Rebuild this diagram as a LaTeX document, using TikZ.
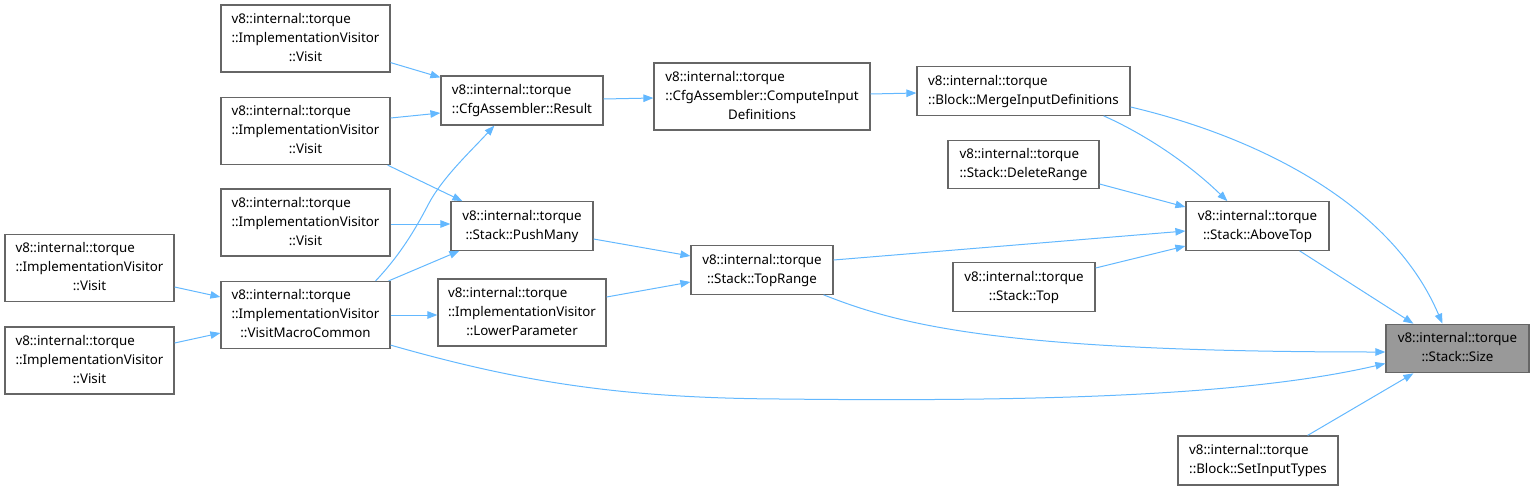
\documentclass[tikz,border=0pt]{standalone}
\usepackage{fontspec}
\setmainfont{Noto Sans}
\usetikzlibrary{arrows.meta,calc}
\definecolor{edgeblue}{HTML}{63B8FF}
\definecolor{boxgray}{HTML}{666666}
\definecolor{selfill}{HTML}{999999}
\newcommand{\lbl}[2]{\begin{tabular}{@{}l@{}}#1\\\multicolumn{1}{@{}c@{}}{#2}\end{tabular}}
\tikzset{
  box/.style={draw=boxgray, line width=1.2pt, fill=white, inner sep=0pt, rectangle,
    font=\fontsize{13.33pt}{19pt}\selectfont},
  selbox/.style={box, fill=selfill},
  link/.style={draw=edgeblue, line width=1pt, -{Triangle[length=10pt,width=7.5pt]}},
}
\begin{document}
\begin{tikzpicture}[x=1pt,y=-1pt]
\useasboundingbox (0,0) rectangle (1534,490);
% nodes
\node[box, minimum width=169pt, minimum height=67pt] (v1) at (305.5,38.5) {\lbl{v8::internal::torque\\::ImplementationVisitor}{::Visit}};
\node[box, minimum width=169pt, minimum height=67pt] (v2) at (305.5,131) {\lbl{v8::internal::torque\\::ImplementationVisitor}{::Visit}};
\node[box, minimum width=169pt, minimum height=67pt] (v3) at (305.5,222.5) {\lbl{v8::internal::torque\\::ImplementationVisitor}{::Visit}};
\node[box, minimum width=169pt, minimum height=67pt] (v4) at (89.5,268) {\lbl{v8::internal::torque\\::ImplementationVisitor}{::Visit}};
\node[box, minimum width=169pt, minimum height=67pt] (v5) at (89.5,360.5) {\lbl{v8::internal::torque\\::ImplementationVisitor}{::Visit}};
\node[box, minimum width=169pt, minimum height=67pt] (vmc) at (305.5,315) {\lbl{v8::internal::torque\\::ImplementationVisitor}{::VisitMacroCommon}};
\node[box, minimum width=162pt, minimum height=49pt] (res) at (522,100.5) {\lbl{v8::internal::torque}{::CfgAssembler::Result}};
\node[box, minimum width=142pt, minimum height=48.5pt] (push) at (522,226) {\lbl{v8::internal::torque}{::Stack::PushMany}};
\node[box, minimum width=168pt, minimum height=67pt] (lowp) at (522,312.5) {\lbl{v8::internal::torque\\::ImplementationVisitor}{::LowerParameter}};
\node[box, minimum width=216pt, minimum height=67pt] (comp) at (762,96.5) {\lbl{v8::internal::torque\\::CfgAssembler::ComputeInput}{Definitions}};
\node[box, minimum width=142pt, minimum height=48.5pt] (topr) at (762,270) {\lbl{v8::internal::torque}{::Stack::TopRange}};
\node[box, minimum width=213pt, minimum height=48.5pt] (merge) at (1023.5,91) {\lbl{v8::internal::torque}{::Block::MergeInputDefinitions}};
\node[box, minimum width=151pt, minimum height=48.5pt] (delr) at (1023.5,164.5) {\lbl{v8::internal::torque}{::Stack::DeleteRange}};
\node[box, minimum width=142pt, minimum height=48.5pt] (top) at (1024,287) {\lbl{v8::internal::torque}{::Stack::Top}};
\node[box, minimum width=143pt, minimum height=48.5pt] (above) at (1257.5,226) {\lbl{v8::internal::torque}{::Stack::AboveTop}};
\node[selbox, minimum width=143pt, minimum height=48.5pt] (size) at (1457.5,348.5) {\lbl{v8::internal::torque}{::Stack::Size}};
\node[box, minimum width=160pt, minimum height=49pt] (setin) at (1258,460.5) {\lbl{v8::internal::torque}{::Block::SetInputTypes}};
% edges
\draw[link] ($(v1.south east)+(0,-10)$) -- ($(res.north west)+(0,2)$);
\draw[link] ($(v2.east)+(0,-13)$) -- ($(res.west)+(0,12.5)$);
\draw[link] ($(v2.south east)+(-3,0)$) -- ($(push.north west)+(12,0)$);
\draw[link] ($(v3.east)+(0,1.5)$) -- ($(push.west)+(0,-2)$);
\draw[link] ($(vmc.north east)+(-2,0)$) -- ($(push.south west)+(9,0)$);
\draw[link] ($(vmc.north east)+(-15,0)$) .. controls (400,255) and (415,230) .. (428,205)
  .. controls (442,178) and (470,152) .. ($(res.south west)+(54,0)$);
\draw[link] (vmc.east) -- (vmc.east -| lowp.west);
\draw[link] ($(v4.east)+(0,19)$) -- ($(vmc.west)+(0,-18)$);
\draw[link] ($(v5.east)+(0,-17.5)$) -- ($(vmc.west)+(0,18)$);
\draw[link] ($(push.east)+(0,13)$) -- ($(topr.west)+(0,-14)$);
\draw[link] ($(lowp.east)+(0,-15.5)$) -- ($(topr.west)+(0,12)$);
\draw[link] ($(res.east)+(0,-1.5)$) -- ($(comp.west)+(0,1.5)$);
\draw[link] ($(comp.east)+(0,-2.5)$) -- ($(merge.west)+(0,2)$);
\draw[link] ($(merge.south east)+(-27,0)$) .. controls (1140,132) and (1185,160) .. ($(above.north west)+(42,0)$);
\draw[link] ($(merge.east)+(0,16)$) .. controls (1250,135) and (1390,200) .. ($(size.north west)+(57,0)$);
\draw[link] ($(delr.east)+(0,19.5)$) -- ($(above.west)+(0,-19)$);
\draw[link] ($(topr.east)+(0,-10)$) -- ($(above.west)+(0,5)$);
\draw[link] ($(top.east)+(0,-19)$) -- ($(above.west)+(0,20)$);
\draw[link] ($(above.south east)+(-30,0)$) -- ($(size.north west)+(28,0)$);
\draw[link] ($(topr.south east)+(-10,0)$) .. controls (900,325) and (1000,352) .. ($(size.west)+(0,3.5)$);
\draw[link] ($(vmc.south east)+(0,-4)$) .. controls (520,382) and (620,398) .. (780,399)
  .. controls (1050,402) and (1250,395) .. ($(size.west)+(0,15)$);
\draw[link] ($(setin.north east)+(-31,0)$) -- ($(size.south west)+(28,0)$);
\end{tikzpicture}
\end{document}
